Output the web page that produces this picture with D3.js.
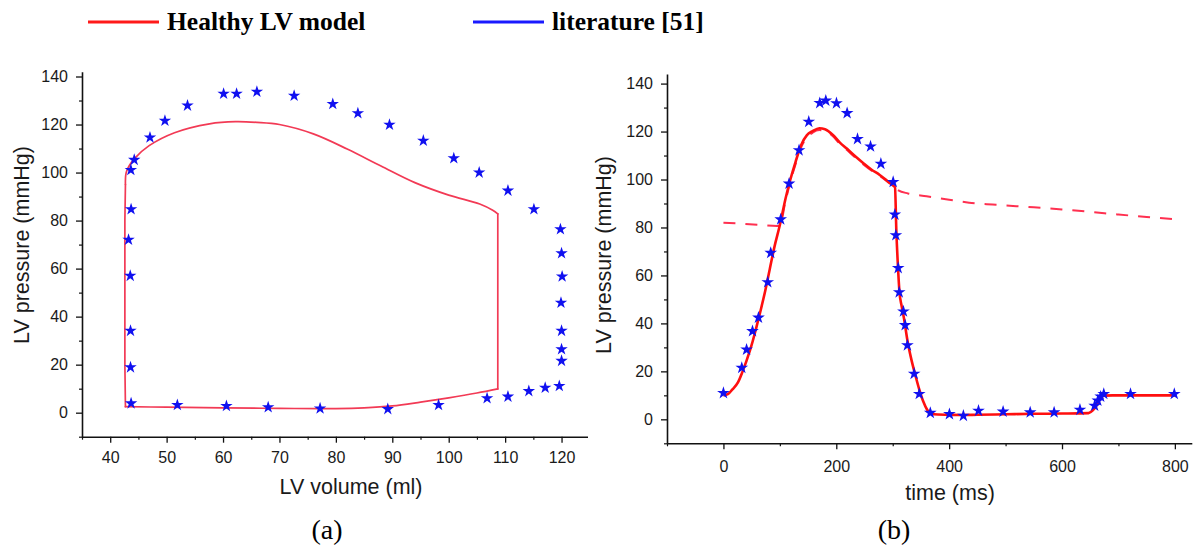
<!DOCTYPE html>
<html>
<head>
<meta charset="utf-8">
<script src="https://cdn.jsdelivr.net/npm/d3@7"></script>
<style>
  html, body { margin: 0; padding: 0; background: #fff; }
  svg { display: block; }
  .tick text { font-family: "Liberation Sans", Arial, sans-serif; fill: #1a1a1a; }
</style>
</head>
<body>
<svg id="chart" width="1203" height="546"></svg>
<script>
// ---- (a) pressure–volume loop ----
const loopVolume   = [42.7, 42.6, 42.6, 42.6, 42.7, 42.9, 44.3, 46.9, 51.4, 57.6, 62.2, 66, 70, 76, 82, 88, 94, 100, 105.5, 107.8, 108.7, 108.7, 108.7, 108.7, 105, 100, 95, 90, 85, 80, 70, 60, 50, 42.7];
const loopPressure = [2.5, 20, 50, 80, 95, 100.5, 105.8, 111.2, 116.6, 120.3, 121.2, 120.9, 120, 116.1, 109.8, 102.7, 95.8, 90.6, 86.9, 84.3, 82.8, 60, 30, 9.9, 8.2, 6.2, 4.4, 2.8, 2.0, 1.7, 1.8, 2.0, 2.3, 2.5];
// loop phases as [first, last] point index: filling, isovolumic contraction, ejection, isovolumic relaxation
const loopPhases = [[23, 33, "smooth"], [0, 4, "straight"], [4, 20, "smooth"], [20, 23, "straight"]];

const litVolume   = [43.7, 43.6, 43.6, 43.55, 43.25, 43.7, 43.66, 44.26, 47.05, 49.7, 53.7, 60.1, 62.4, 66.0, 72.6, 79.45, 83.9, 89.5, 95.5, 100.9, 105.4, 110.5, 115.1, 119.8, 120.0, 120.1, 119.9, 120.0, 120.0, 120.0, 119.6, 117.1, 114.2, 110.5, 106.8, 98.2, 89.2, 77.2, 68.0, 60.6, 51.9];
const litPressureA = [4.3, 19.3, 34.5, 57.4, 72.4, 85.1, 101.5, 105.7, 115, 122, 128.3, 133.2, 133.2, 134.1, 132.4, 129.0, 125.1, 120.3, 113.7, 106.4, 100.4, 92.9, 85.1, 76.8, 66.8, 57.1, 46.2, 34.5, 26.8, 22.0, 11.5, 10.8, 9.4, 7.1, 6.4, 3.6, 1.9, 2.2, 2.7, 3.2, 3.6];

// ---- (b) pressure over one cardiac cycle ----
const modelTime     = [0, 8, 16, 26, 34, 41, 50, 58, 66, 74, 82, 90, 100, 110, 118, 128, 138, 148, 158, 170, 180, 194, 206, 218, 232, 248, 262, 277, 290, 300, 304, 306.5, 309, 312, 316, 320, 326, 333, 340, 347, 354, 361, 368, 380, 400, 420, 450, 500, 550, 600, 647, 655, 662, 668.5, 675, 690, 800];
const modelPressure = [10, 10.5, 12.5, 15.5, 20, 24.5, 31, 38, 45.5, 53.5, 62.5, 71.5, 81, 92, 99.5, 107.5, 114.5, 118.5, 120.2, 121.4, 121, 118.6, 115.5, 113, 110, 106.8, 104.2, 101.9, 99.5, 97.6, 96.8, 78, 65, 53, 47, 42, 33, 25, 18.5, 12.5, 7.5, 4, 2.3, 2.0, 1.9, 1.8, 1.9, 2.1, 2.3, 2.4, 2.6, 3.8, 6, 8.9, 9.9, 10, 10];

const aorticTime     = [0, 30, 60, 95, 100, 110, 118, 128, 138, 148, 158, 170, 180, 194, 206, 218, 232, 248, 262, 277, 290, 300, 310, 327, 360, 400, 450, 500, 550, 600, 650, 700, 750, 798];
const aorticPressure = [82, 81.6, 81.1, 80.6, 80.8, 91, 98.5, 106.5, 113.5, 117.5, 119.5, 120.6, 120.4, 118, 115, 112.5, 109.5, 106.3, 103.8, 101.5, 99.2, 97.3, 95.5, 94.2, 93.0, 91.6, 90.0, 89.2, 88.4, 87.5, 86.5, 85.4, 84.4, 83.5];

const litTime      = [0, 32.5, 41, 51.5, 62.1, 78.5, 83.8, 101.5, 116.3, 134, 151.2, 170.7, 181.4, 200.3, 219.2, 237.6, 260.7, 279, 300.8, 303.8, 305.6, 309.7, 311.5, 319, 322, 326, 338, 347, 366.6, 400.5, 425.2, 452, 495.6, 543.6, 586, 631.8, 657.8, 663.5, 668.5, 674, 721.4, 799];
const litPressureB = [11.4, 21.9, 29.5, 37.2, 42.8, 57.6, 69.8, 83.8, 98.7, 112.6, 124.5, 132.3, 133.3, 132.2, 128.1, 117.3, 114.2, 107.0, 99.4, 85.8, 77.2, 63.5, 53.4, 45.4, 39.7, 31.3, 19.4, 11.0, 3.1, 2.6, 1.9, 4.0, 3.6, 3.3, 3.3, 4.4, 6.1, 8.2, 9.9, 11.0, 11.0, 11.0];

// ---- axis ticks ----
const volumeTicks   = [40, 50, 60, 70, 80, 90, 100, 110, 120];
const pressureTicks = [0, 20, 40, 60, 80, 100, 120, 140];
const timeTicks     = [0, 200, 400, 600, 800];

// ---- legend ----
const legendLabels = ["Healthy LV model", "literature [51]"];
const legendColors = ["#ff1a1a", "#1a1aff"];

const svg = d3.select("#chart");
const starBlue = "#1010f0";
const star = d3.symbol().type(d3.symbolStar);

function minorBetween(majors, step, lo, hi) {
  const out = [];
  for (let v = Math.ceil(lo / step) * step; v <= hi + 1e-9; v += step) {
    if (!majors.some(m => Math.abs(m - v) < 1e-9)) out.push(v);
  }
  return out;
}

function drawAxes(g, x, y, xTicks, yTicks, xMinorStep, yMinorStep, xLabelDy, yLabelPad) {
  const [x0, x1] = x.domain();
  const [y0, y1] = y.domain();
  const xr = x.range(), yr = y.range();

  // minor ticks first, so the major axis line sits on top
  g.append("g")
    .attr("transform", `translate(0,${yr[0]})`)
    .call(d3.axisBottom(x).tickValues(minorBetween(xTicks, xMinorStep, x0, x1)).tickSize(3).tickSizeOuter(0).tickFormat(""))
    .call(a => a.select(".domain").remove())
    .call(a => a.selectAll("line").attr("stroke", "#111").attr("stroke-width", 1.2));
  g.append("g")
    .attr("transform", `translate(${xr[0]},0)`)
    .call(d3.axisLeft(y).tickValues(minorBetween(yTicks, yMinorStep, y0, y1)).tickSize(3).tickSizeOuter(0).tickFormat(""))
    .call(a => a.select(".domain").remove())
    .call(a => a.selectAll("line").attr("stroke", "#111").attr("stroke-width", 1.2));

  g.append("g")
    .attr("transform", `translate(0,${yr[0]})`)
    .call(d3.axisBottom(x).tickValues(xTicks).tickSize(6).tickSizeOuter(0).tickPadding(xLabelDy))
    .call(a => a.select(".domain").attr("stroke", "#111").attr("stroke-width", 1.6))
    .call(a => a.selectAll("line").attr("stroke", "#111").attr("stroke-width", 1.3))
    .call(a => a.selectAll("text").style("font-size", "16px"));
  g.append("g")
    .attr("transform", `translate(${xr[0]},0)`)
    .call(d3.axisLeft(y).tickValues(yTicks).tickSize(6).tickSizeOuter(0).tickPadding(yLabelPad))
    .call(a => a.select(".domain").attr("stroke", "#111").attr("stroke-width", 1.6))
    .call(a => a.selectAll("line").attr("stroke", "#111").attr("stroke-width", 1.3))
    .call(a => a.selectAll("text").style("font-size", "16px"));
}

function axisTitle(g, text, x, y, rotate) {
  g.append("text")
    .attr("transform", `translate(${x},${y})` + (rotate ? " rotate(-90)" : ""))
    .attr("text-anchor", "middle")
    .attr("font-family", "Liberation Sans, Arial, sans-serif")
    .attr("font-size", 21.5)
    .attr("fill", "#1a1a1a")
    .text(text);
}

// ================= panel (a) =================
const ga = svg.append("g");
const xa = d3.scaleLinear().domain([35, 124.6]).range([82, 587.5]);
const ya = d3.scaleLinear().domain([-10, 142]).range([436.7, 71.7]);
drawAxes(ga, xa, ya, volumeTicks, pressureTicks, 5, 10, 9, 8);

// each phase of the loop is its own piece, so the corners stay sharp
const smoothLine   = d3.line().curve(d3.curveCatmullRom.alpha(0.5)).x(i => xa(loopVolume[i])).y(i => ya(loopPressure[i]));
const straightLine = d3.line().x(i => xa(loopVolume[i])).y(i => ya(loopPressure[i]));
ga.selectAll("path.loop")
  .data(loopPhases)
  .join("path")
  .attr("class", "loop")
  .attr("fill", "none")
  .attr("stroke", "#f23a55")
  .attr("stroke-width", 1.7)
  .attr("stroke-linecap", "round")
  .attr("stroke-linejoin", "round")
  .attr("d", ([a, b, kind]) => (kind === "smooth" ? smoothLine : straightLine)(d3.range(a, b + 1)));

ga.selectAll("path.star")
  .data(d3.range(litVolume.length))
  .join("path")
  .attr("class", "star")
  .attr("d", star.size(48)())
  .attr("fill", starBlue)
  .attr("transform", i => `translate(${xa(litVolume[i])},${ya(litPressureA[i]) + 1})`);

axisTitle(ga, "LV volume (ml)", 351, 494, false);
axisTitle(ga, "LV pressure (mmHg)", 29, 245, true);

// ================= panel (b) =================
const gb = svg.append("g");
const xb = d3.scaleLinear().domain([-100, 830]).range([667, 1191.8]);
const yb = d3.scaleLinear().domain([-10, 144]).range([443.3, 74]);
drawAxes(gb, xb, yb, timeTicks, pressureTicks, 100, 10, 11, 8);

gb.append("path")
  .datum(d3.range(aorticTime.length))
  .attr("fill", "none")
  .attr("stroke", "#ff3050")
  .attr("stroke-width", 2)
  .attr("stroke-dasharray", "12,10")
  .attr("d", d3.line().curve(d3.curveMonotoneX).x(i => xb(aorticTime[i])).y(i => yb(aorticPressure[i])));

gb.append("path")
  .datum(d3.range(modelTime.length))
  .attr("fill", "none")
  .attr("stroke", "#ff0f0f")
  .attr("stroke-width", 2.6)
  .attr("stroke-linejoin", "round")
  .attr("d", d3.line().curve(d3.curveMonotoneX).x(i => xb(modelTime[i])).y(i => yb(modelPressure[i])));

gb.selectAll("path.star")
  .data(d3.range(litTime.length))
  .join("path")
  .attr("class", "star")
  .attr("d", star.size(50)())
  .attr("fill", starBlue)
  .attr("transform", i => `translate(${xb(litTime[i])},${yb(litPressureB[i]) + 1})`);

axisTitle(gb, "time (ms)", 950, 500, false);
axisTitle(gb, "LV pressure (mmHg)", 611, 255, true);

// ================= sub-figure labels =================
svg.selectAll("text.sub")
  .data([["(a)", 327], ["(b)", 894]])
  .join("text")
  .attr("class", "sub")
  .attr("x", d => d[1]).attr("y", 539)
  .attr("text-anchor", "middle")
  .attr("font-family", "Liberation Serif, 'Times New Roman', serif")
  .attr("font-size", 28)
  .attr("fill", "#000")
  .text(d => d[0]);

// ================= legend =================
const legendX = [88, 473];
const lg = svg.append("g");
legendLabels.forEach((label, i) => {
  lg.append("line")
    .attr("x1", legendX[i]).attr("x2", legendX[i] + 71)
    .attr("y1", 22).attr("y2", 22)
    .attr("stroke", legendColors[i]).attr("stroke-width", 3);
  lg.append("text")
    .attr("x", legendX[i] + 79).attr("y", 30)
    .attr("font-family", "Liberation Serif, 'Times New Roman', serif")
    .attr("font-weight", "bold")
    .attr("font-size", 25.5)
    .attr("fill", "#000")
    .text(label);
});
</script>
</body>
</html>
